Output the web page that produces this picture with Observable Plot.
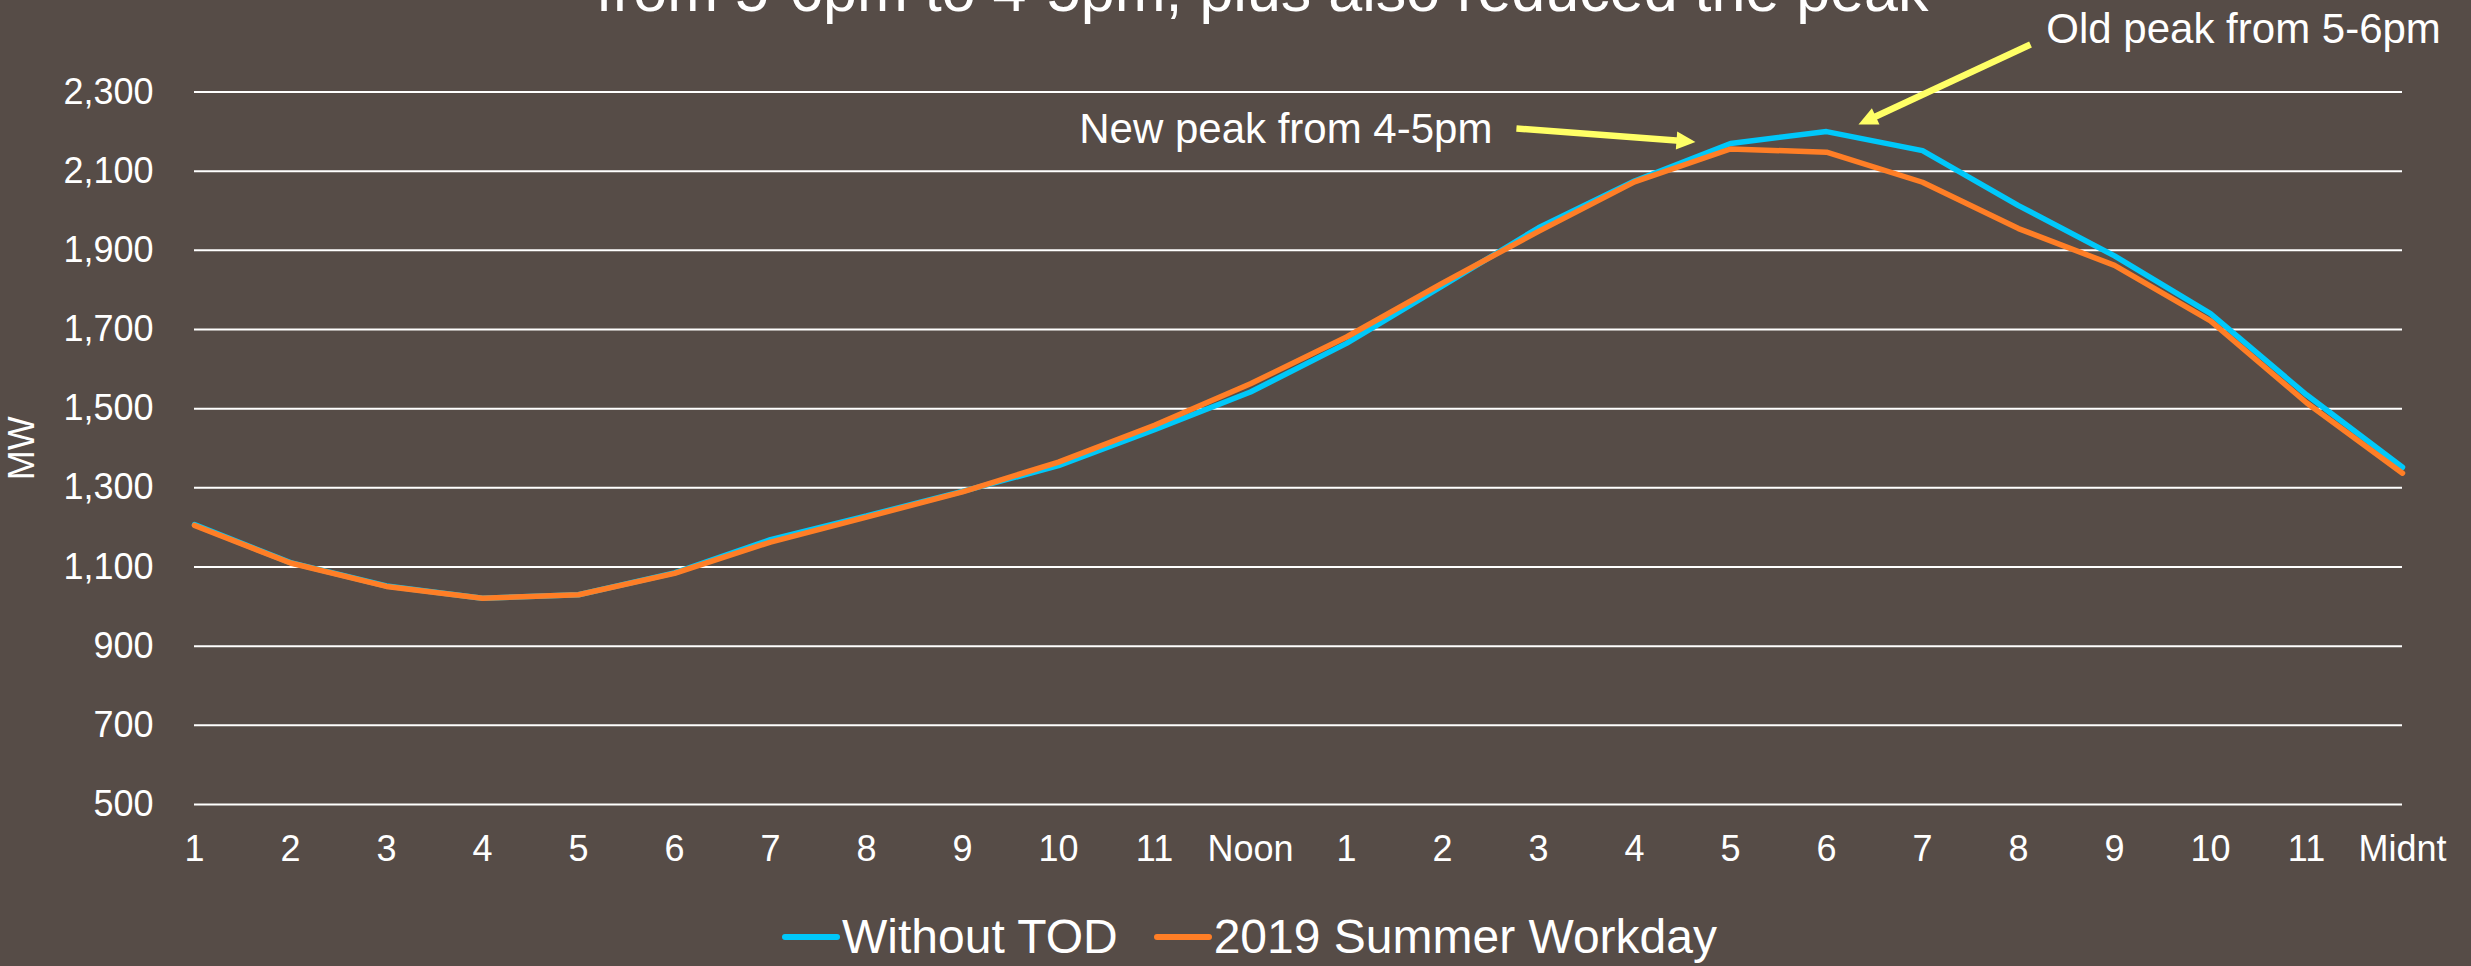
<!DOCTYPE html>
<html>
<head>
<meta charset="utf-8">
<script src="https://cdn.jsdelivr.net/npm/d3@7"></script>
<script src="https://cdn.jsdelivr.net/npm/@observablehq/plot@0.6"></script>
<style>
  html, body { margin: 0; padding: 0; background: #564C47; overflow: hidden; }
  #wrap { position: relative; width: 2471px; height: 966px; font-family: "Liberation Sans", Arial, sans-serif; color: #fff; }
  #title { position: absolute; left: 596px; top: -40px; font-size: 61px; line-height: 61px; white-space: nowrap; }
  #legend { position: absolute; left: 782px; top: 913px; display: flex; align-items: center; font-size: 48px; line-height: 48px; white-space: nowrap; }
  #legend .item { display: flex; align-items: center; margin-right: 36px; }
  #legend .item span { margin-left: 2px; }
</style>
</head>
<body>
<div id="wrap">
  <div id="chart"></div>
  <div id="title">from 5-6pm to 4-5pm, plus also reduced the peak</div>
  <div id="legend"></div>
</div>
<script>
// ---- data ----
const hours = [1, 2, 3, 4, 5, 6, 7, 8, 9, 10, 11, 12, 13, 14, 15, 16, 17, 18, 19, 20, 21, 22, 23, 24];
const hourLabels = ["1", "2", "3", "4", "5", "6", "7", "8", "9", "10", "11", "Noon",
                    "1", "2", "3", "4", "5", "6", "7", "8", "9", "10", "11", "Midnt"];
const withoutTOD = [1207, 1111, 1052, 1021, 1030, 1085, 1169, 1229, 1291, 1356, 1447, 1542,
                    1665, 1810, 1957, 2075, 2170, 2200, 2152, 2013, 1886, 1740, 1535, 1352];
const summer2019 = [1205, 1110, 1051, 1021, 1030, 1084, 1163, 1226, 1290, 1365, 1458, 1563,
                    1681, 1817, 1948, 2073, 2156, 2148, 2072, 1955, 1862, 1722, 1515, 1337];
const seriesNames = ["Without TOD", "2019 Summer Workday"];
const seriesColors = ["#00C8FA", "#FF7E26"];
const yTicks = [500, 700, 900, 1100, 1300, 1500, 1700, 1900, 2100, 2300];
const yLabel = "MW";
// annotations in data units (hour, MW)
const noteNew = [{label: "New peak from 4-5pm", h: 14.52, v: 2206}];
const noteOld = [{label: "Old peak from 5-6pm", h: 20.29, v: 2459}];
const arrows = [
  {h1: 14.77, v1: 2208, h2: 16.635, v2: 2174},
  {h1: 20.125, v1: 2420, h2: 18.333, v2: 2218}
];
const arrowColor = "#FFFF66";

// ---- build ----
const W = 2471, H = 890, ML = 194, MR = 69, MT = 91.5, MB = 86;
const rowsWithout = hours.map((h, i) => ({hour: h, mw: withoutTOD[i]}));
const rowsSummer = hours.map((h, i) => ({hour: h, mw: summer2019[i]}));

const xs = Plot.scale({x: {type: "linear", domain: [1, 24], range: [ML, W - MR]}});
const ys = Plot.scale({y: {type: "linear", domain: [500, 2300], range: [H - MB, MT]}});
const arrowData = arrows.map(a => {
  const dx = xs.apply(a.h2) - xs.apply(a.h1);
  const dy = ys.apply(a.v2) - ys.apply(a.v1);
  return {...a, angle: Math.atan2(dx, -dy) * 180 / Math.PI};
});

const font = '"Liberation Sans", Arial, sans-serif';
const chart = Plot.plot({
  width: W, height: H,
  marginLeft: ML, marginRight: MR, marginTop: MT, marginBottom: MB,
  style: {background: "transparent", color: "white", fontFamily: font, overflow: "visible"},
  x: {type: "linear", domain: [1, 24]},
  y: {type: "linear", domain: [500, 2300]},
  marks: [
    Plot.ruleY(yTicks, {stroke: "white", strokeWidth: 2}),
    Plot.axisY({ticks: yTicks, tickFormat: d3.format(","), tickSize: 0, tickPadding: 41, fontSize: 36, label: null}),
    Plot.axisX({ticks: hours, tickFormat: d => hourLabels[d - 1], tickSize: 0, tickPadding: 31, fontSize: 36, label: null}),
    Plot.text([yLabel], {frameAnchor: "left", textAnchor: "middle", dx: -172, rotate: -90, fontSize: 36, fill: "white"}),
    Plot.line(rowsWithout, {x: "hour", y: "mw", stroke: seriesColors[0], strokeWidth: 5.5, strokeLinejoin: "miter"}),
    Plot.line(rowsSummer, {x: "hour", y: "mw", stroke: seriesColors[1], strokeWidth: 5.5, strokeLinejoin: "miter"}),
    Plot.arrow(arrowData, {x1: "h1", y1: "v1", x2: "h2", y2: "v2", stroke: arrowColor, strokeWidth: 6.5,
                           headLength: 0, insetEnd: 16, strokeLinecap: "butt"}),
    Plot.vector(arrowData, {x: "h2", y: "v2", rotate: "angle", length: 19, r: 9, shape: "spike",
                            anchor: "end", fill: arrowColor, stroke: "none"}),
    Plot.text(noteNew, {x: "h", y: "v", text: "label", textAnchor: "end", fontSize: 42, fill: "white"}),
    Plot.text(noteOld, {x: "h", y: "v", text: "label", textAnchor: "start", fontSize: 42, fill: "white"})
  ]
});
document.getElementById("chart").appendChild(chart);

// ---- legend ----
const legend = document.getElementById("legend");
seriesNames.forEach((name, i) => {
  const item = document.createElement("div");
  item.className = "item";
  item.innerHTML = `<svg width="58" height="8"><line x1="3" y1="4" x2="55" y2="4" stroke="${seriesColors[i]}" stroke-width="6" stroke-linecap="round"/></svg><span>${name}</span>`;
  legend.appendChild(item);
});
</script>
</body>
</html>
